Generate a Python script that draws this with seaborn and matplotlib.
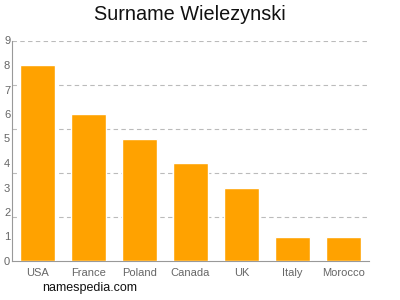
import matplotlib
matplotlib.use("Agg")
import numpy as np
import pandas as pd
import seaborn as sns
import matplotlib.pyplot as plt

# data
countries = ["USA", "France", "Poland", "Canada", "UK", "Italy", "Morocco"]
counts = [8, 6, 5, 4, 3, 1, 1]
y_ticks = list(range(0, 10))
grid_levels = [1.8, 3.6, 5.4, 7.2, 9.0]

df = pd.DataFrame({"country": countries, "count": counts})

sns.set_style("white")
plt.rcParams["font.family"] = ["Liberation Sans", "DejaVu Sans"]

fig = plt.figure(figsize=(4, 3), dpi=100)
ax = fig.add_axes([0.029, 0.13, 0.894, 0.735])

sns.barplot(data=df, x="country", y="count", color="#ffa200",
            saturation=1, width=0.69, ax=ax, zorder=3)

for g in grid_levels:
    ax.axhline(g, color="#bbbbbb", lw=0.8, ls=(0, (4, 3)), zorder=1)

ax.set_xlim(-0.5, 6.5)
ax.set_ylim(0, 9)
ax.set_yticks(y_ticks)
ax.set_xlabel("")
ax.set_ylabel("")

for s in ["top", "right"]:
    ax.spines[s].set_visible(False)
for s in ["left", "bottom"]:
    ax.spines[s].set_color("#999999")
    ax.spines[s].set_linewidth(0.8)

ax.tick_params(axis="y", length=0, pad=1, labelsize=8, labelcolor="#666666")
ax.tick_params(axis="x", length=3, width=0.6, color="#999999", pad=2,
               labelsize=8, labelcolor="#666666", direction="out")

fig.text(0.4755, 0.985, "Surname Wielezynski", ha="center", va="top",
         fontsize=14.3, color="#111111")
fig.text(0.105, 0.03, "namespedia.com", fontsize=9, color="#111111")

fig.savefig("out.png", dpi=100)
